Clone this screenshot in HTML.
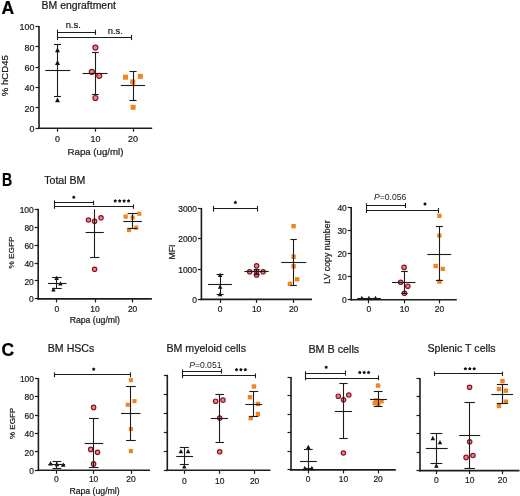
<!DOCTYPE html>
<html><head><meta charset="utf-8"><style>
html,body{margin:0;padding:0;background:#fff;}
svg{display:block;filter:blur(0.3px);font-family:"Liberation Sans",sans-serif;}
</style></head><body>
<svg width="520" height="496" viewBox="0 0 520 496">
<rect width="520" height="496" fill="#fff"/>
<text x="1.6" y="13.5" font-size="17.5" text-anchor="start" font-weight="bold" fill="#000" stroke="#000" stroke-width="0.22" >A</text>
<text x="41.6" y="9.4" font-size="10.45" text-anchor="start" fill="#1a1a1a" stroke="#1a1a1a" stroke-width="0.22" >BM engraftment</text>
<line x1="39.0" y1="26.099999999999994" x2="39.0" y2="129.0" stroke="#1c1c1c" stroke-width="1.6"/>
<line x1="38.2" y1="128.2" x2="152.2" y2="128.2" stroke="#1c1c1c" stroke-width="1.6"/>
<line x1="35.5" y1="128.5" x2="39.0" y2="128.5" stroke="#1c1c1c" stroke-width="1.2"/>
<text x="34.5" y="131.944" font-size="9.6" text-anchor="end" fill="#1a1a1a" stroke="#1a1a1a" stroke-width="0.22"  textLength="4.96" lengthAdjust="spacingAndGlyphs">0</text>
<line x1="35.5" y1="107.5" x2="39.0" y2="107.5" stroke="#1c1c1c" stroke-width="1.2"/>
<text x="34.5" y="111.624" font-size="9.6" text-anchor="end" fill="#1a1a1a" stroke="#1a1a1a" stroke-width="0.22"  textLength="9.93" lengthAdjust="spacingAndGlyphs">20</text>
<line x1="35.5" y1="87.5" x2="39.0" y2="87.5" stroke="#1c1c1c" stroke-width="1.2"/>
<text x="34.5" y="91.30399999999999" font-size="9.6" text-anchor="end" fill="#1a1a1a" stroke="#1a1a1a" stroke-width="0.22"  textLength="9.93" lengthAdjust="spacingAndGlyphs">40</text>
<line x1="35.5" y1="67.5" x2="39.0" y2="67.5" stroke="#1c1c1c" stroke-width="1.2"/>
<text x="34.5" y="70.98399999999998" font-size="9.6" text-anchor="end" fill="#1a1a1a" stroke="#1a1a1a" stroke-width="0.22"  textLength="9.93" lengthAdjust="spacingAndGlyphs">60</text>
<line x1="35.5" y1="46.5" x2="39.0" y2="46.5" stroke="#1c1c1c" stroke-width="1.2"/>
<text x="34.5" y="50.66399999999999" font-size="9.6" text-anchor="end" fill="#1a1a1a" stroke="#1a1a1a" stroke-width="0.22"  textLength="9.93" lengthAdjust="spacingAndGlyphs">80</text>
<line x1="35.5" y1="26.5" x2="39.0" y2="26.5" stroke="#1c1c1c" stroke-width="1.2"/>
<text x="34.5" y="30.343999999999994" font-size="9.6" text-anchor="end" fill="#1a1a1a" stroke="#1a1a1a" stroke-width="0.22"  textLength="14.89" lengthAdjust="spacingAndGlyphs">100</text>
<line x1="57.5" y1="128.2" x2="57.5" y2="131.7" stroke="#1c1c1c" stroke-width="1.2"/>
<text x="57.6" y="142.2" font-size="9.6" text-anchor="middle" fill="#1a1a1a" stroke="#1a1a1a" stroke-width="0.22"  textLength="4.96" lengthAdjust="spacingAndGlyphs">0</text>
<line x1="95.5" y1="128.2" x2="95.5" y2="131.7" stroke="#1c1c1c" stroke-width="1.2"/>
<text x="95.4" y="142.2" font-size="9.6" text-anchor="middle" fill="#1a1a1a" stroke="#1a1a1a" stroke-width="0.22"  textLength="9.93" lengthAdjust="spacingAndGlyphs">10</text>
<line x1="133.5" y1="128.2" x2="133.5" y2="131.7" stroke="#1c1c1c" stroke-width="1.2"/>
<text x="133.0" y="142.2" font-size="9.6" text-anchor="middle" fill="#1a1a1a" stroke="#1a1a1a" stroke-width="0.22"  textLength="9.93" lengthAdjust="spacingAndGlyphs">20</text>
<text x="95.5" y="154.5" font-size="9.7" text-anchor="middle" fill="#1a1a1a" stroke="#1a1a1a" stroke-width="0.22" >Rapa (ug/ml)</text>
<text x="8.5" y="75.7" font-size="9.6" text-anchor="middle" transform="rotate(-90 8.5 75.7)" fill="#1a1a1a" stroke="#1a1a1a" stroke-width="0.22" >% hCD45</text>
<line x1="57.8" y1="32.5" x2="95.9" y2="32.5" stroke="#1c1c1c" stroke-width="1.1"/>
<line x1="57.5" y1="29.7" x2="57.5" y2="40.1" stroke="#1c1c1c" stroke-width="1.1"/>
<line x1="95.5" y1="29.7" x2="95.5" y2="34.9" stroke="#1c1c1c" stroke-width="1.1"/>
<line x1="57.8" y1="37.5" x2="131.3" y2="37.5" stroke="#1c1c1c" stroke-width="1.1"/>
<line x1="131.5" y1="34.9" x2="131.5" y2="40.1" stroke="#1c1c1c" stroke-width="1.1"/>
<text x="73.2" y="28.4" font-size="9.4" text-anchor="middle" fill="#1a1a1a" stroke="#1a1a1a" stroke-width="0.22" >n.s.</text>
<text x="115.3" y="33.7" font-size="9.4" text-anchor="middle" fill="#1a1a1a" stroke="#1a1a1a" stroke-width="0.22" >n.s.</text>
<path d="M55.00,52.17 L60.00,52.17 L57.50,47.42 Z" fill="#111"/>
<path d="M55.00,64.88 L60.00,64.88 L57.50,60.12 Z" fill="#111"/>
<path d="M55.00,102.28 L60.00,102.28 L57.50,97.53 Z" fill="#111"/>
<circle cx="95.4" cy="47.6" r="2.5" fill="#f4808c" stroke="#861622" stroke-width="1.2"/>
<circle cx="91.8" cy="71.8" r="2.5" fill="#f4808c" stroke="#861622" stroke-width="1.2"/>
<circle cx="99.2" cy="75.8" r="2.5" fill="#f4808c" stroke="#861622" stroke-width="1.2"/>
<circle cx="95.4" cy="98.0" r="2.5" fill="#f4808c" stroke="#861622" stroke-width="1.2"/>
<rect x="123.00" y="74.70" width="5.0" height="5.0" fill="#f0841f"/>
<rect x="137.80" y="73.90" width="5.0" height="5.0" fill="#f0841f"/>
<rect x="130.30" y="79.40" width="5.0" height="5.0" fill="#f0841f"/>
<rect x="130.60" y="104.80" width="5.0" height="5.0" fill="#f0841f"/>
<text x="1.9" y="186.0" font-size="17.5" text-anchor="start" font-weight="bold" fill="#000" stroke="#000" stroke-width="0.22"  textLength="10.16" lengthAdjust="spacingAndGlyphs">B</text>
<text x="44.2" y="184.0" font-size="10.6" text-anchor="start" fill="#1a1a1a" stroke="#1a1a1a" stroke-width="0.22" >Total BM</text>
<line x1="38.2" y1="208.79999999999995" x2="38.2" y2="299.7" stroke="#1c1c1c" stroke-width="1.6"/>
<line x1="37.400000000000006" y1="298.9" x2="151.9" y2="298.9" stroke="#1c1c1c" stroke-width="1.6"/>
<line x1="34.7" y1="298.5" x2="38.2" y2="298.5" stroke="#1c1c1c" stroke-width="1.2"/>
<text x="33.800000000000004" y="302.44899999999996" font-size="9.1" text-anchor="end" fill="#1a1a1a" stroke="#1a1a1a" stroke-width="0.22"  textLength="4.71" lengthAdjust="spacingAndGlyphs">0</text>
<line x1="34.7" y1="280.5" x2="38.2" y2="280.5" stroke="#1c1c1c" stroke-width="1.2"/>
<text x="33.800000000000004" y="284.52899999999994" font-size="9.1" text-anchor="end" fill="#1a1a1a" stroke="#1a1a1a" stroke-width="0.22"  textLength="9.41" lengthAdjust="spacingAndGlyphs">20</text>
<line x1="34.7" y1="263.5" x2="38.2" y2="263.5" stroke="#1c1c1c" stroke-width="1.2"/>
<text x="33.800000000000004" y="266.6089999999999" font-size="9.1" text-anchor="end" fill="#1a1a1a" stroke="#1a1a1a" stroke-width="0.22"  textLength="9.41" lengthAdjust="spacingAndGlyphs">40</text>
<line x1="34.7" y1="245.5" x2="38.2" y2="245.5" stroke="#1c1c1c" stroke-width="1.2"/>
<text x="33.800000000000004" y="248.689" font-size="9.1" text-anchor="end" fill="#1a1a1a" stroke="#1a1a1a" stroke-width="0.22"  textLength="9.41" lengthAdjust="spacingAndGlyphs">60</text>
<line x1="34.7" y1="227.5" x2="38.2" y2="227.5" stroke="#1c1c1c" stroke-width="1.2"/>
<text x="33.800000000000004" y="230.76899999999998" font-size="9.1" text-anchor="end" fill="#1a1a1a" stroke="#1a1a1a" stroke-width="0.22"  textLength="9.41" lengthAdjust="spacingAndGlyphs">80</text>
<line x1="34.7" y1="209.5" x2="38.2" y2="209.5" stroke="#1c1c1c" stroke-width="1.2"/>
<text x="33.800000000000004" y="212.84899999999996" font-size="9.1" text-anchor="end" fill="#1a1a1a" stroke="#1a1a1a" stroke-width="0.22"  textLength="14.12" lengthAdjust="spacingAndGlyphs">100</text>
<line x1="56.5" y1="298.9" x2="56.5" y2="302.4" stroke="#1c1c1c" stroke-width="1.2"/>
<text x="56.9" y="311.6" font-size="9.1" text-anchor="middle" fill="#1a1a1a" stroke="#1a1a1a" stroke-width="0.22"  textLength="4.71" lengthAdjust="spacingAndGlyphs">0</text>
<line x1="95.5" y1="298.9" x2="95.5" y2="302.4" stroke="#1c1c1c" stroke-width="1.2"/>
<text x="95.0" y="311.6" font-size="9.1" text-anchor="middle" fill="#1a1a1a" stroke="#1a1a1a" stroke-width="0.22"  textLength="9.41" lengthAdjust="spacingAndGlyphs">10</text>
<line x1="132.5" y1="298.9" x2="132.5" y2="302.4" stroke="#1c1c1c" stroke-width="1.2"/>
<text x="132.6" y="311.6" font-size="9.1" text-anchor="middle" fill="#1a1a1a" stroke="#1a1a1a" stroke-width="0.22"  textLength="9.41" lengthAdjust="spacingAndGlyphs">20</text>
<text x="94.8" y="322.6" font-size="8.7" text-anchor="middle" fill="#1a1a1a" stroke="#1a1a1a" stroke-width="0.22" >Rapa (ug/ml)</text>
<text x="13.9" y="252.6" font-size="8.1" text-anchor="middle" transform="rotate(-90 13.9 252.6)" fill="#1a1a1a" stroke="#1a1a1a" stroke-width="0.22"  textLength="32.00" lengthAdjust="spacingAndGlyphs">% EGFP</text>
<line x1="54.8" y1="202.5" x2="93.8" y2="202.5" stroke="#1c1c1c" stroke-width="1.1"/>
<line x1="54.5" y1="200.4" x2="54.5" y2="208.8" stroke="#1c1c1c" stroke-width="1.1"/>
<line x1="93.5" y1="200.6" x2="93.5" y2="205.2" stroke="#1c1c1c" stroke-width="1.1"/>
<line x1="54.8" y1="206.5" x2="133.0" y2="206.5" stroke="#1c1c1c" stroke-width="1.1"/>
<line x1="133.5" y1="204.4" x2="133.5" y2="208.8" stroke="#1c1c1c" stroke-width="1.1"/>
<polygon points="73.80,195.40 74.53,196.30 75.61,196.71 74.97,197.68 74.92,198.84 73.80,198.54 72.68,198.84 72.63,197.68 71.99,196.71 73.07,196.30" fill="#111"/>
<polygon points="115.23,199.00 115.95,199.90 117.03,200.31 116.40,201.28 116.34,202.44 115.23,202.14 114.11,202.44 114.05,201.28 113.42,200.31 114.50,199.90" fill="#111"/>
<polygon points="119.68,199.00 120.40,199.90 121.48,200.31 120.85,201.28 120.79,202.44 119.68,202.14 118.56,202.44 118.50,201.28 117.87,200.31 118.95,199.90" fill="#111"/>
<polygon points="124.12,199.00 124.85,199.90 125.93,200.31 125.30,201.28 125.24,202.44 124.12,202.14 123.01,202.44 122.95,201.28 122.32,200.31 123.40,199.90" fill="#111"/>
<polygon points="128.58,199.00 129.30,199.90 130.38,200.31 129.75,201.28 129.69,202.44 128.58,202.14 127.46,202.44 127.40,201.28 126.77,200.31 127.85,199.90" fill="#111"/>
<path d="M54.35,280.04 L58.85,280.04 L56.60,275.76 Z" fill="#111"/>
<path d="M58.15,285.54 L62.65,285.54 L60.40,281.26 Z" fill="#111"/>
<path d="M51.15,291.54 L55.65,291.54 L53.40,287.26 Z" fill="#111"/>
<circle cx="88.5" cy="220.0" r="2.2" fill="#f4808c" stroke="#861622" stroke-width="1.2"/>
<circle cx="94.6" cy="221.3" r="2.2" fill="#f4808c" stroke="#861622" stroke-width="1.2"/>
<circle cx="101.0" cy="217.8" r="2.2" fill="#f4808c" stroke="#861622" stroke-width="1.2"/>
<circle cx="94.6" cy="269.3" r="2.2" fill="#f4808c" stroke="#861622" stroke-width="1.2"/>
<rect x="123.60" y="214.50" width="4.2" height="4.2" fill="#f0841f"/>
<rect x="130.50" y="215.50" width="4.2" height="4.2" fill="#f0841f"/>
<rect x="137.10" y="211.60" width="4.2" height="4.2" fill="#f0841f"/>
<rect x="126.90" y="227.90" width="4.2" height="4.2" fill="#f0841f"/>
<rect x="134.10" y="225.60" width="4.2" height="4.2" fill="#f0841f"/>
<line x1="201.4" y1="208.08999999999997" x2="201.4" y2="300.2" stroke="#1c1c1c" stroke-width="1.6"/>
<line x1="200.6" y1="299.4" x2="312.0" y2="299.4" stroke="#1c1c1c" stroke-width="1.6"/>
<line x1="197.9" y1="299.5" x2="201.4" y2="299.5" stroke="#1c1c1c" stroke-width="1.2"/>
<text x="197.0" y="302.94899999999996" font-size="9.1" text-anchor="end" fill="#1a1a1a" stroke="#1a1a1a" stroke-width="0.22"  textLength="4.71" lengthAdjust="spacingAndGlyphs">0</text>
<line x1="197.9" y1="269.5" x2="201.4" y2="269.5" stroke="#1c1c1c" stroke-width="1.2"/>
<text x="197.0" y="272.679" font-size="9.1" text-anchor="end" fill="#1a1a1a" stroke="#1a1a1a" stroke-width="0.22"  textLength="18.82" lengthAdjust="spacingAndGlyphs">1000</text>
<line x1="197.9" y1="238.5" x2="201.4" y2="238.5" stroke="#1c1c1c" stroke-width="1.2"/>
<text x="197.0" y="242.409" font-size="9.1" text-anchor="end" fill="#1a1a1a" stroke="#1a1a1a" stroke-width="0.22"  textLength="18.82" lengthAdjust="spacingAndGlyphs">2000</text>
<line x1="197.9" y1="208.5" x2="201.4" y2="208.5" stroke="#1c1c1c" stroke-width="1.2"/>
<text x="197.0" y="212.13899999999998" font-size="9.1" text-anchor="end" fill="#1a1a1a" stroke="#1a1a1a" stroke-width="0.22"  textLength="18.82" lengthAdjust="spacingAndGlyphs">3000</text>
<line x1="220.5" y1="299.4" x2="220.5" y2="302.9" stroke="#1c1c1c" stroke-width="1.2"/>
<text x="220.0" y="311.8" font-size="9.1" text-anchor="middle" fill="#1a1a1a" stroke="#1a1a1a" stroke-width="0.22"  textLength="4.71" lengthAdjust="spacingAndGlyphs">0</text>
<line x1="256.5" y1="299.4" x2="256.5" y2="302.9" stroke="#1c1c1c" stroke-width="1.2"/>
<text x="256.6" y="311.8" font-size="9.1" text-anchor="middle" fill="#1a1a1a" stroke="#1a1a1a" stroke-width="0.22"  textLength="9.41" lengthAdjust="spacingAndGlyphs">10</text>
<line x1="293.5" y1="299.4" x2="293.5" y2="302.9" stroke="#1c1c1c" stroke-width="1.2"/>
<text x="293.6" y="311.8" font-size="9.1" text-anchor="middle" fill="#1a1a1a" stroke="#1a1a1a" stroke-width="0.22"  textLength="9.41" lengthAdjust="spacingAndGlyphs">20</text>
<text x="175.0" y="252.0" font-size="8.8" text-anchor="middle" transform="rotate(-90 175.0 252.0)" fill="#1a1a1a" stroke="#1a1a1a" stroke-width="0.22" >MFI</text>
<line x1="213.3" y1="208.5" x2="257.5" y2="208.5" stroke="#1c1c1c" stroke-width="1.1"/>
<line x1="213.5" y1="206.0" x2="213.5" y2="211.60000000000002" stroke="#1c1c1c" stroke-width="1.1"/>
<line x1="257.5" y1="206.0" x2="257.5" y2="211.60000000000002" stroke="#1c1c1c" stroke-width="1.1"/>
<polygon points="235.40,200.60 236.13,201.50 237.21,201.91 236.57,202.88 236.52,204.04 235.40,203.74 234.28,204.04 234.23,202.88 233.59,201.91 234.67,201.50" fill="#111"/>
<path d="M217.85,277.04 L222.35,277.04 L220.10,272.76 Z" fill="#111"/>
<path d="M217.85,288.74 L222.35,288.74 L220.10,284.46 Z" fill="#111"/>
<path d="M217.85,296.14 L222.35,296.14 L220.10,291.86 Z" fill="#111"/>
<circle cx="256.6" cy="265.8" r="2.2" fill="#f4808c" stroke="#861622" stroke-width="1.2"/>
<circle cx="249.7" cy="271.8" r="2.2" fill="#f4808c" stroke="#861622" stroke-width="1.2"/>
<circle cx="263.1" cy="271.8" r="2.2" fill="#f4808c" stroke="#861622" stroke-width="1.2"/>
<circle cx="256.6" cy="274.9" r="2.2" fill="#f4808c" stroke="#861622" stroke-width="1.2"/>
<circle cx="256.6" cy="271.2" r="2.2" fill="#f4808c" stroke="#861622" stroke-width="1.2"/>
<rect x="291.40" y="224.00" width="4.4" height="4.4" fill="#f0841f"/>
<rect x="291.40" y="254.50" width="4.4" height="4.4" fill="#f0841f"/>
<rect x="291.40" y="264.10" width="4.4" height="4.4" fill="#f0841f"/>
<rect x="295.00" y="277.10" width="4.4" height="4.4" fill="#f0841f"/>
<rect x="287.70" y="281.60" width="4.4" height="4.4" fill="#f0841f"/>
<line x1="351.2" y1="206.9" x2="351.2" y2="300.6" stroke="#1c1c1c" stroke-width="1.6"/>
<line x1="350.4" y1="299.8" x2="456.8" y2="299.8" stroke="#1c1c1c" stroke-width="1.6"/>
<line x1="347.7" y1="299.5" x2="351.2" y2="299.5" stroke="#1c1c1c" stroke-width="1.2"/>
<text x="346.8" y="303.349" font-size="9.1" text-anchor="end" fill="#1a1a1a" stroke="#1a1a1a" stroke-width="0.22"  textLength="4.71" lengthAdjust="spacingAndGlyphs">0</text>
<line x1="347.7" y1="276.5" x2="351.2" y2="276.5" stroke="#1c1c1c" stroke-width="1.2"/>
<text x="346.8" y="280.24899999999997" font-size="9.1" text-anchor="end" fill="#1a1a1a" stroke="#1a1a1a" stroke-width="0.22"  textLength="9.41" lengthAdjust="spacingAndGlyphs">10</text>
<line x1="347.7" y1="253.5" x2="351.2" y2="253.5" stroke="#1c1c1c" stroke-width="1.2"/>
<text x="346.8" y="257.149" font-size="9.1" text-anchor="end" fill="#1a1a1a" stroke="#1a1a1a" stroke-width="0.22"  textLength="9.41" lengthAdjust="spacingAndGlyphs">20</text>
<line x1="347.7" y1="230.5" x2="351.2" y2="230.5" stroke="#1c1c1c" stroke-width="1.2"/>
<text x="346.8" y="234.049" font-size="9.1" text-anchor="end" fill="#1a1a1a" stroke="#1a1a1a" stroke-width="0.22"  textLength="9.41" lengthAdjust="spacingAndGlyphs">30</text>
<line x1="347.7" y1="207.5" x2="351.2" y2="207.5" stroke="#1c1c1c" stroke-width="1.2"/>
<text x="346.8" y="210.949" font-size="9.1" text-anchor="end" fill="#1a1a1a" stroke="#1a1a1a" stroke-width="0.22"  textLength="9.41" lengthAdjust="spacingAndGlyphs">40</text>
<line x1="368.5" y1="299.8" x2="368.5" y2="303.3" stroke="#1c1c1c" stroke-width="1.2"/>
<text x="368.8" y="312.4" font-size="9.1" text-anchor="middle" fill="#1a1a1a" stroke="#1a1a1a" stroke-width="0.22"  textLength="4.71" lengthAdjust="spacingAndGlyphs">0</text>
<line x1="404.5" y1="299.8" x2="404.5" y2="303.3" stroke="#1c1c1c" stroke-width="1.2"/>
<text x="404.4" y="312.4" font-size="9.1" text-anchor="middle" fill="#1a1a1a" stroke="#1a1a1a" stroke-width="0.22"  textLength="9.41" lengthAdjust="spacingAndGlyphs">10</text>
<line x1="439.5" y1="299.8" x2="439.5" y2="303.3" stroke="#1c1c1c" stroke-width="1.2"/>
<text x="439.5" y="312.4" font-size="9.1" text-anchor="middle" fill="#1a1a1a" stroke="#1a1a1a" stroke-width="0.22"  textLength="9.41" lengthAdjust="spacingAndGlyphs">20</text>
<text x="330.2" y="252.1" font-size="8.8" text-anchor="middle" transform="rotate(-90 330.2 252.1)" fill="#1a1a1a" stroke="#1a1a1a" stroke-width="0.22" >LV copy number</text>
<line x1="366.6" y1="205.5" x2="405.5" y2="205.5" stroke="#1c1c1c" stroke-width="1.1"/>
<line x1="366.5" y1="203.3" x2="366.5" y2="212.9" stroke="#1c1c1c" stroke-width="1.1"/>
<line x1="405.5" y1="203.0" x2="405.5" y2="208.0" stroke="#1c1c1c" stroke-width="1.1"/>
<line x1="366.6" y1="210.5" x2="438.8" y2="210.5" stroke="#1c1c1c" stroke-width="1.1"/>
<line x1="438.5" y1="208.0" x2="438.5" y2="213.0" stroke="#1c1c1c" stroke-width="1.1"/>
<text x="374.0" y="200.4" font-size="8.6" fill="#1a1a1a"><tspan font-style="italic">P</tspan>=0.056</text>
<polygon points="425.00,202.10 425.73,203.00 426.81,203.41 426.17,204.38 426.12,205.54 425.00,205.24 423.88,205.54 423.83,204.38 423.19,203.41 424.27,203.00" fill="#111"/>
<path d="M359.80,299.50 L363.80,299.50 L361.80,295.70 Z" fill="#111"/>
<path d="M366.90,299.50 L370.90,299.50 L368.90,295.70 Z" fill="#111"/>
<path d="M373.50,299.50 L377.50,299.50 L375.50,295.70 Z" fill="#111"/>
<circle cx="404.1" cy="267.4" r="2.2" fill="#f4808c" stroke="#861622" stroke-width="1.2"/>
<circle cx="400.7" cy="282.3" r="2.2" fill="#f4808c" stroke="#861622" stroke-width="1.2"/>
<circle cx="407.8" cy="286.2" r="2.2" fill="#f4808c" stroke="#861622" stroke-width="1.2"/>
<circle cx="404.4" cy="293.3" r="2.2" fill="#f4808c" stroke="#861622" stroke-width="1.2"/>
<rect x="437.25" y="213.65" width="4.3" height="4.3" fill="#f0841f"/>
<rect x="437.25" y="233.45" width="4.3" height="4.3" fill="#f0841f"/>
<rect x="433.55" y="263.85" width="4.3" height="4.3" fill="#f0841f"/>
<rect x="440.65" y="266.75" width="4.3" height="4.3" fill="#f0841f"/>
<rect x="437.25" y="279.45" width="4.3" height="4.3" fill="#f0841f"/>
<text x="1.6" y="355.5" font-size="17.5" text-anchor="start" font-weight="bold" fill="#000" stroke="#000" stroke-width="0.22" >C</text>
<text x="47.8" y="352.4" font-size="10.6" text-anchor="start" fill="#1a1a1a" stroke="#1a1a1a" stroke-width="0.22" >BM HSCs</text>
<line x1="38.4" y1="378.1" x2="38.4" y2="471.1" stroke="#1c1c1c" stroke-width="1.6"/>
<line x1="37.6" y1="470.3" x2="150.0" y2="470.3" stroke="#1c1c1c" stroke-width="1.6"/>
<line x1="34.9" y1="470.5" x2="38.4" y2="470.5" stroke="#1c1c1c" stroke-width="1.2"/>
<text x="34.0" y="473.849" font-size="9.1" text-anchor="end" fill="#1a1a1a" stroke="#1a1a1a" stroke-width="0.22"  textLength="4.71" lengthAdjust="spacingAndGlyphs">0</text>
<line x1="34.9" y1="451.5" x2="38.4" y2="451.5" stroke="#1c1c1c" stroke-width="1.2"/>
<text x="34.0" y="455.509" font-size="9.1" text-anchor="end" fill="#1a1a1a" stroke="#1a1a1a" stroke-width="0.22"  textLength="9.41" lengthAdjust="spacingAndGlyphs">20</text>
<line x1="34.9" y1="433.5" x2="38.4" y2="433.5" stroke="#1c1c1c" stroke-width="1.2"/>
<text x="34.0" y="437.169" font-size="9.1" text-anchor="end" fill="#1a1a1a" stroke="#1a1a1a" stroke-width="0.22"  textLength="9.41" lengthAdjust="spacingAndGlyphs">40</text>
<line x1="34.9" y1="415.5" x2="38.4" y2="415.5" stroke="#1c1c1c" stroke-width="1.2"/>
<text x="34.0" y="418.829" font-size="9.1" text-anchor="end" fill="#1a1a1a" stroke="#1a1a1a" stroke-width="0.22"  textLength="9.41" lengthAdjust="spacingAndGlyphs">60</text>
<line x1="34.9" y1="396.5" x2="38.4" y2="396.5" stroke="#1c1c1c" stroke-width="1.2"/>
<text x="34.0" y="400.489" font-size="9.1" text-anchor="end" fill="#1a1a1a" stroke="#1a1a1a" stroke-width="0.22"  textLength="9.41" lengthAdjust="spacingAndGlyphs">80</text>
<line x1="34.9" y1="378.5" x2="38.4" y2="378.5" stroke="#1c1c1c" stroke-width="1.2"/>
<text x="34.0" y="382.149" font-size="9.1" text-anchor="end" fill="#1a1a1a" stroke="#1a1a1a" stroke-width="0.22"  textLength="14.12" lengthAdjust="spacingAndGlyphs">100</text>
<line x1="56.5" y1="470.3" x2="56.5" y2="473.8" stroke="#1c1c1c" stroke-width="1.2"/>
<text x="56.4" y="482.4" font-size="9.1" text-anchor="middle" fill="#1a1a1a" stroke="#1a1a1a" stroke-width="0.22"  textLength="4.71" lengthAdjust="spacingAndGlyphs">0</text>
<line x1="93.5" y1="470.3" x2="93.5" y2="473.8" stroke="#1c1c1c" stroke-width="1.2"/>
<text x="93.6" y="482.4" font-size="9.1" text-anchor="middle" fill="#1a1a1a" stroke="#1a1a1a" stroke-width="0.22"  textLength="9.41" lengthAdjust="spacingAndGlyphs">10</text>
<line x1="131.5" y1="470.3" x2="131.5" y2="473.8" stroke="#1c1c1c" stroke-width="1.2"/>
<text x="131.0" y="482.4" font-size="9.1" text-anchor="middle" fill="#1a1a1a" stroke="#1a1a1a" stroke-width="0.22"  textLength="9.41" lengthAdjust="spacingAndGlyphs">20</text>
<text x="94.5" y="493.5" font-size="8.7" text-anchor="middle" fill="#1a1a1a" stroke="#1a1a1a" stroke-width="0.22" >Rapa (ug/ml)</text>
<text x="14.8" y="423.4" font-size="8.1" text-anchor="middle" transform="rotate(-90 14.8 423.4)" fill="#1a1a1a" stroke="#1a1a1a" stroke-width="0.22"  textLength="31.20" lengthAdjust="spacingAndGlyphs">% EGFP</text>
<line x1="54.8" y1="374.5" x2="130.6" y2="374.5" stroke="#1c1c1c" stroke-width="1.1"/>
<line x1="54.5" y1="372.40000000000003" x2="54.5" y2="377.2" stroke="#1c1c1c" stroke-width="1.1"/>
<line x1="130.5" y1="372.40000000000003" x2="130.5" y2="377.2" stroke="#1c1c1c" stroke-width="1.1"/>
<polygon points="93.70,367.30 94.43,368.20 95.51,368.61 94.87,369.58 94.82,370.74 93.70,370.44 92.58,370.74 92.53,369.58 91.89,368.61 92.97,368.20" fill="#111"/>
<path d="M48.30,465.49 L52.90,465.49 L50.60,461.12 Z" fill="#111"/>
<path d="M60.90,466.79 L65.50,466.79 L63.20,462.42 Z" fill="#111"/>
<path d="M54.60,466.19 L59.20,466.19 L56.90,461.81 Z" fill="#111"/>
<circle cx="93.6" cy="407.4" r="2.2" fill="#f4808c" stroke="#861622" stroke-width="1.2"/>
<circle cx="90.7" cy="449.4" r="2.2" fill="#f4808c" stroke="#861622" stroke-width="1.2"/>
<circle cx="97.5" cy="452.3" r="2.2" fill="#f4808c" stroke="#861622" stroke-width="1.2"/>
<circle cx="93.6" cy="463.9" r="2.2" fill="#f4808c" stroke="#861622" stroke-width="1.2"/>
<rect x="128.85" y="378.15" width="4.1" height="4.1" fill="#f0841f"/>
<rect x="125.65" y="402.75" width="4.1" height="4.1" fill="#f0841f"/>
<rect x="132.45" y="399.05" width="4.1" height="4.1" fill="#f0841f"/>
<rect x="128.85" y="426.95" width="4.1" height="4.1" fill="#f0841f"/>
<rect x="128.85" y="449.05" width="4.1" height="4.1" fill="#f0841f"/>
<text x="166.5" y="351.6" font-size="10.6" text-anchor="start" fill="#1a1a1a" stroke="#1a1a1a" stroke-width="0.22" >BM myeloid cells</text>
<line x1="167.3" y1="374.8" x2="167.3" y2="471.1" stroke="#1c1c1c" stroke-width="1.6"/>
<line x1="166.5" y1="470.3" x2="270.4" y2="470.3" stroke="#1c1c1c" stroke-width="1.6"/>
<line x1="163.8" y1="470.5" x2="167.3" y2="470.5" stroke="#1c1c1c" stroke-width="1.2"/>
<line x1="163.8" y1="451.5" x2="167.3" y2="451.5" stroke="#1c1c1c" stroke-width="1.2"/>
<line x1="163.8" y1="432.5" x2="167.3" y2="432.5" stroke="#1c1c1c" stroke-width="1.2"/>
<line x1="163.8" y1="413.5" x2="167.3" y2="413.5" stroke="#1c1c1c" stroke-width="1.2"/>
<line x1="163.8" y1="394.5" x2="167.3" y2="394.5" stroke="#1c1c1c" stroke-width="1.2"/>
<line x1="163.8" y1="375.5" x2="167.3" y2="375.5" stroke="#1c1c1c" stroke-width="1.2"/>
<line x1="184.5" y1="470.3" x2="184.5" y2="473.8" stroke="#1c1c1c" stroke-width="1.2"/>
<text x="184.3" y="483.5" font-size="9.1" text-anchor="middle" fill="#1a1a1a" stroke="#1a1a1a" stroke-width="0.22"  textLength="4.71" lengthAdjust="spacingAndGlyphs">0</text>
<line x1="219.5" y1="470.3" x2="219.5" y2="473.8" stroke="#1c1c1c" stroke-width="1.2"/>
<text x="219.7" y="483.5" font-size="9.1" text-anchor="middle" fill="#1a1a1a" stroke="#1a1a1a" stroke-width="0.22"  textLength="9.41" lengthAdjust="spacingAndGlyphs">10</text>
<line x1="254.5" y1="470.3" x2="254.5" y2="473.8" stroke="#1c1c1c" stroke-width="1.2"/>
<text x="254.6" y="483.5" font-size="9.1" text-anchor="middle" fill="#1a1a1a" stroke="#1a1a1a" stroke-width="0.22"  textLength="9.41" lengthAdjust="spacingAndGlyphs">20</text>
<line x1="182.2" y1="371.5" x2="221.8" y2="371.5" stroke="#1c1c1c" stroke-width="1.1"/>
<line x1="182.5" y1="369.5" x2="182.5" y2="378.1" stroke="#1c1c1c" stroke-width="1.1"/>
<line x1="221.5" y1="368.8" x2="221.5" y2="373.6" stroke="#1c1c1c" stroke-width="1.1"/>
<line x1="182.2" y1="375.5" x2="255.6" y2="375.5" stroke="#1c1c1c" stroke-width="1.1"/>
<line x1="255.5" y1="373.4" x2="255.5" y2="378.2" stroke="#1c1c1c" stroke-width="1.1"/>
<text x="189.2" y="368.0" font-size="8.6" fill="#1a1a1a"><tspan font-style="italic">P</tspan>=0.051</text>
<polygon points="236.50,367.80 237.23,368.70 238.31,369.11 237.67,370.08 237.62,371.24 236.50,370.94 235.38,371.24 235.33,370.08 234.69,369.11 235.77,368.70" fill="#111"/>
<polygon points="240.90,367.80 241.63,368.70 242.71,369.11 242.07,370.08 242.02,371.24 240.90,370.94 239.78,371.24 239.73,370.08 239.09,369.11 240.17,368.70" fill="#111"/>
<polygon points="245.30,367.80 246.03,368.70 247.11,369.11 246.47,370.08 246.42,371.24 245.30,370.94 244.18,371.24 244.13,370.08 243.49,369.11 244.57,368.70" fill="#111"/>
<path d="M178.65,453.34 L183.15,453.34 L180.90,449.06 Z" fill="#111"/>
<path d="M185.85,453.34 L190.35,453.34 L188.10,449.06 Z" fill="#111"/>
<path d="M182.05,468.54 L186.55,468.54 L184.30,464.26 Z" fill="#111"/>
<circle cx="215.6" cy="401.2" r="2.2" fill="#f4808c" stroke="#861622" stroke-width="1.2"/>
<circle cx="223.0" cy="400.1" r="2.2" fill="#f4808c" stroke="#861622" stroke-width="1.2"/>
<circle cx="219.7" cy="418.1" r="2.2" fill="#f4808c" stroke="#861622" stroke-width="1.2"/>
<circle cx="219.7" cy="451.8" r="2.2" fill="#f4808c" stroke="#861622" stroke-width="1.2"/>
<rect x="251.80" y="384.30" width="4.4" height="4.4" fill="#f0841f"/>
<rect x="247.80" y="395.00" width="4.4" height="4.4" fill="#f0841f"/>
<rect x="255.70" y="401.80" width="4.4" height="4.4" fill="#f0841f"/>
<rect x="255.70" y="411.80" width="4.4" height="4.4" fill="#f0841f"/>
<rect x="248.50" y="415.90" width="4.4" height="4.4" fill="#f0841f"/>
<text x="308.4" y="352.8" font-size="10.75" text-anchor="start" fill="#1a1a1a" stroke="#1a1a1a" stroke-width="0.22" >BM B cells</text>
<line x1="291.0" y1="377.0" x2="291.0" y2="470.7" stroke="#1c1c1c" stroke-width="1.6"/>
<line x1="290.2" y1="469.9" x2="395.8" y2="469.9" stroke="#1c1c1c" stroke-width="1.6"/>
<line x1="287.5" y1="469.5" x2="291.0" y2="469.5" stroke="#1c1c1c" stroke-width="1.2"/>
<line x1="287.5" y1="451.5" x2="291.0" y2="451.5" stroke="#1c1c1c" stroke-width="1.2"/>
<line x1="287.5" y1="432.5" x2="291.0" y2="432.5" stroke="#1c1c1c" stroke-width="1.2"/>
<line x1="287.5" y1="414.5" x2="291.0" y2="414.5" stroke="#1c1c1c" stroke-width="1.2"/>
<line x1="287.5" y1="395.5" x2="291.0" y2="395.5" stroke="#1c1c1c" stroke-width="1.2"/>
<line x1="287.5" y1="377.5" x2="291.0" y2="377.5" stroke="#1c1c1c" stroke-width="1.2"/>
<line x1="308.5" y1="469.9" x2="308.5" y2="473.4" stroke="#1c1c1c" stroke-width="1.2"/>
<text x="308.1" y="482.4" font-size="9.1" text-anchor="middle" fill="#1a1a1a" stroke="#1a1a1a" stroke-width="0.22"  textLength="4.71" lengthAdjust="spacingAndGlyphs">0</text>
<line x1="343.5" y1="469.9" x2="343.5" y2="473.4" stroke="#1c1c1c" stroke-width="1.2"/>
<text x="343.5" y="482.4" font-size="9.1" text-anchor="middle" fill="#1a1a1a" stroke="#1a1a1a" stroke-width="0.22"  textLength="9.41" lengthAdjust="spacingAndGlyphs">10</text>
<line x1="378.5" y1="469.9" x2="378.5" y2="473.4" stroke="#1c1c1c" stroke-width="1.2"/>
<text x="378.1" y="482.4" font-size="9.1" text-anchor="middle" fill="#1a1a1a" stroke="#1a1a1a" stroke-width="0.22"  textLength="9.41" lengthAdjust="spacingAndGlyphs">20</text>
<line x1="305.6" y1="373.5" x2="345.6" y2="373.5" stroke="#1c1c1c" stroke-width="1.1"/>
<line x1="305.5" y1="371.2" x2="305.5" y2="380.2" stroke="#1c1c1c" stroke-width="1.1"/>
<line x1="345.5" y1="370.6" x2="345.5" y2="375.6" stroke="#1c1c1c" stroke-width="1.1"/>
<line x1="305.6" y1="378.5" x2="378.3" y2="378.5" stroke="#1c1c1c" stroke-width="1.1"/>
<line x1="378.5" y1="375.4" x2="378.5" y2="380.2" stroke="#1c1c1c" stroke-width="1.1"/>
<polygon points="326.20,365.40 326.93,366.30 328.01,366.71 327.37,367.68 327.32,368.84 326.20,368.54 325.08,368.84 325.03,367.68 324.39,366.71 325.47,366.30" fill="#111"/>
<polygon points="359.80,370.60 360.53,371.50 361.61,371.91 360.97,372.88 360.92,374.04 359.80,373.74 358.68,374.04 358.63,372.88 357.99,371.91 359.07,371.50" fill="#111"/>
<polygon points="364.20,370.60 364.93,371.50 366.01,371.91 365.37,372.88 365.32,374.04 364.20,373.74 363.08,374.04 363.03,372.88 362.39,371.91 363.47,371.50" fill="#111"/>
<polygon points="368.60,370.60 369.33,371.50 370.41,371.91 369.77,372.88 369.72,374.04 368.60,373.74 367.48,374.04 367.43,372.88 366.79,371.91 367.87,371.50" fill="#111"/>
<path d="M306.05,449.04 L310.55,449.04 L308.30,444.76 Z" fill="#111"/>
<path d="M302.55,470.14 L307.05,470.14 L304.80,465.86 Z" fill="#111"/>
<path d="M309.65,470.14 L314.15,470.14 L311.90,465.86 Z" fill="#111"/>
<circle cx="338.3" cy="396.2" r="2.2" fill="#f4808c" stroke="#861622" stroke-width="1.2"/>
<circle cx="348.8" cy="395.0" r="2.2" fill="#f4808c" stroke="#861622" stroke-width="1.2"/>
<circle cx="343.5" cy="399.8" r="2.2" fill="#f4808c" stroke="#861622" stroke-width="1.2"/>
<circle cx="343.4" cy="453.0" r="2.2" fill="#f4808c" stroke="#861622" stroke-width="1.2"/>
<rect x="375.90" y="383.40" width="4.4" height="4.4" fill="#f0841f"/>
<rect x="372.60" y="401.10" width="4.4" height="4.4" fill="#f0841f"/>
<rect x="379.30" y="399.10" width="4.4" height="4.4" fill="#f0841f"/>
<rect x="376.00" y="401.60" width="4.4" height="4.4" fill="#f0841f"/>
<rect x="373.80" y="398.30" width="4.4" height="4.4" fill="#f0841f"/>
<text x="427.4" y="352.0" font-size="10.65" text-anchor="start" fill="#1a1a1a" stroke="#1a1a1a" stroke-width="0.22" >Splenic T cells</text>
<line x1="420.0" y1="378.0" x2="420.0" y2="471.40000000000003" stroke="#1c1c1c" stroke-width="1.6"/>
<line x1="419.2" y1="470.6" x2="519.5" y2="470.6" stroke="#1c1c1c" stroke-width="1.6"/>
<line x1="416.5" y1="470.5" x2="420.0" y2="470.5" stroke="#1c1c1c" stroke-width="1.2"/>
<line x1="416.5" y1="452.5" x2="420.0" y2="452.5" stroke="#1c1c1c" stroke-width="1.2"/>
<line x1="416.5" y1="433.5" x2="420.0" y2="433.5" stroke="#1c1c1c" stroke-width="1.2"/>
<line x1="416.5" y1="415.5" x2="420.0" y2="415.5" stroke="#1c1c1c" stroke-width="1.2"/>
<line x1="416.5" y1="396.5" x2="420.0" y2="396.5" stroke="#1c1c1c" stroke-width="1.2"/>
<line x1="416.5" y1="378.5" x2="420.0" y2="378.5" stroke="#1c1c1c" stroke-width="1.2"/>
<line x1="436.5" y1="470.6" x2="436.5" y2="474.1" stroke="#1c1c1c" stroke-width="1.2"/>
<text x="436.4" y="483.3" font-size="9.1" text-anchor="middle" fill="#1a1a1a" stroke="#1a1a1a" stroke-width="0.22"  textLength="4.71" lengthAdjust="spacingAndGlyphs">0</text>
<line x1="469.5" y1="470.6" x2="469.5" y2="474.1" stroke="#1c1c1c" stroke-width="1.2"/>
<text x="469.7" y="483.3" font-size="9.1" text-anchor="middle" fill="#1a1a1a" stroke="#1a1a1a" stroke-width="0.22"  textLength="9.41" lengthAdjust="spacingAndGlyphs">10</text>
<line x1="502.5" y1="470.6" x2="502.5" y2="474.1" stroke="#1c1c1c" stroke-width="1.2"/>
<text x="502.4" y="483.3" font-size="9.1" text-anchor="middle" fill="#1a1a1a" stroke="#1a1a1a" stroke-width="0.22"  textLength="9.41" lengthAdjust="spacingAndGlyphs">20</text>
<line x1="434.4" y1="373.5" x2="502.7" y2="373.5" stroke="#1c1c1c" stroke-width="1.1"/>
<line x1="434.5" y1="371.6" x2="434.5" y2="376.0" stroke="#1c1c1c" stroke-width="1.1"/>
<line x1="502.5" y1="371.6" x2="502.5" y2="376.0" stroke="#1c1c1c" stroke-width="1.1"/>
<polygon points="465.40,366.90 466.13,367.80 467.21,368.21 466.57,369.18 466.52,370.34 465.40,370.04 464.28,370.34 464.23,369.18 463.59,368.21 464.67,367.80" fill="#111"/>
<polygon points="469.80,366.90 470.53,367.80 471.61,368.21 470.97,369.18 470.92,370.34 469.80,370.04 468.68,370.34 468.63,369.18 467.99,368.21 469.07,367.80" fill="#111"/>
<polygon points="474.20,366.90 474.93,367.80 476.01,368.21 475.37,369.18 475.32,370.34 474.20,370.04 473.08,370.34 473.03,369.18 472.39,368.21 473.47,367.80" fill="#111"/>
<path d="M430.55,440.14 L435.05,440.14 L432.80,435.86 Z" fill="#111"/>
<path d="M437.75,444.34 L442.25,444.34 L440.00,440.06 Z" fill="#111"/>
<path d="M434.15,467.64 L438.65,467.64 L436.40,463.36 Z" fill="#111"/>
<circle cx="469.6" cy="387.3" r="2.2" fill="#f4808c" stroke="#861622" stroke-width="1.2"/>
<circle cx="469.7" cy="441.8" r="2.2" fill="#f4808c" stroke="#861622" stroke-width="1.2"/>
<circle cx="466.1" cy="457.4" r="2.2" fill="#f4808c" stroke="#861622" stroke-width="1.2"/>
<circle cx="473.0" cy="455.5" r="2.2" fill="#f4808c" stroke="#861622" stroke-width="1.2"/>
<rect x="500.30" y="378.90" width="4.4" height="4.4" fill="#f0841f"/>
<rect x="496.80" y="386.80" width="4.4" height="4.4" fill="#f0841f"/>
<rect x="503.70" y="388.50" width="4.4" height="4.4" fill="#f0841f"/>
<rect x="503.70" y="399.50" width="4.4" height="4.4" fill="#f0841f"/>
<rect x="496.80" y="403.80" width="4.4" height="4.4" fill="#f0841f"/>
<line x1="57.5" y1="44.2" x2="57.5" y2="96.3" stroke="#1c1c1c" stroke-width="1.1"/>
<line x1="54.0" y1="44.5" x2="61.0" y2="44.5" stroke="#1c1c1c" stroke-width="1.1"/>
<line x1="54.0" y1="96.5" x2="61.0" y2="96.5" stroke="#1c1c1c" stroke-width="1.1"/>
<line x1="45.3" y1="70.5" x2="70.3" y2="70.5" stroke="#1c1c1c" stroke-width="1.1"/>
<line x1="95.5" y1="52.3" x2="95.5" y2="94.3" stroke="#1c1c1c" stroke-width="1.1"/>
<line x1="92.05000000000001" y1="52.5" x2="98.75" y2="52.5" stroke="#1c1c1c" stroke-width="1.1"/>
<line x1="92.05000000000001" y1="94.5" x2="98.75" y2="94.5" stroke="#1c1c1c" stroke-width="1.1"/>
<line x1="82.5" y1="73.5" x2="107.5" y2="73.5" stroke="#1c1c1c" stroke-width="1.1"/>
<line x1="133.5" y1="71.3" x2="133.5" y2="100.3" stroke="#1c1c1c" stroke-width="1.1"/>
<line x1="129.4" y1="71.5" x2="136.6" y2="71.5" stroke="#1c1c1c" stroke-width="1.1"/>
<line x1="129.4" y1="100.5" x2="136.6" y2="100.5" stroke="#1c1c1c" stroke-width="1.1"/>
<line x1="120.8" y1="85.5" x2="145.0" y2="85.5" stroke="#1c1c1c" stroke-width="1.1"/>
<line x1="56.5" y1="277.1" x2="56.5" y2="288.8" stroke="#1c1c1c" stroke-width="1.1"/>
<line x1="52.1" y1="277.5" x2="61.699999999999996" y2="277.5" stroke="#1c1c1c" stroke-width="1.1"/>
<line x1="52.1" y1="288.5" x2="61.699999999999996" y2="288.5" stroke="#1c1c1c" stroke-width="1.1"/>
<line x1="47.9" y1="283.5" x2="66.5" y2="283.5" stroke="#1c1c1c" stroke-width="1.1"/>
<line x1="94.5" y1="209.3" x2="94.5" y2="257.2" stroke="#1c1c1c" stroke-width="1.1"/>
<line x1="90.2" y1="257.5" x2="99.39999999999999" y2="257.5" stroke="#1c1c1c" stroke-width="1.1"/>
<line x1="85.6" y1="232.5" x2="103.8" y2="232.5" stroke="#1c1c1c" stroke-width="1.1"/>
<line x1="132.5" y1="213.7" x2="132.5" y2="228.0" stroke="#1c1c1c" stroke-width="1.1"/>
<line x1="127.60000000000001" y1="213.5" x2="137.20000000000002" y2="213.5" stroke="#1c1c1c" stroke-width="1.1"/>
<line x1="127.60000000000001" y1="228.5" x2="137.20000000000002" y2="228.5" stroke="#1c1c1c" stroke-width="1.1"/>
<line x1="123.3" y1="221.5" x2="141.9" y2="221.5" stroke="#1c1c1c" stroke-width="1.1"/>
<line x1="220.5" y1="274.2" x2="220.5" y2="294.3" stroke="#1c1c1c" stroke-width="1.1"/>
<line x1="216.6" y1="274.5" x2="223.6" y2="274.5" stroke="#1c1c1c" stroke-width="1.1"/>
<line x1="216.6" y1="294.5" x2="223.6" y2="294.5" stroke="#1c1c1c" stroke-width="1.1"/>
<line x1="208.0" y1="284.5" x2="231.9" y2="284.5" stroke="#1c1c1c" stroke-width="1.1"/>
<line x1="256.5" y1="269.0" x2="256.5" y2="274.0" stroke="#1c1c1c" stroke-width="1.1"/>
<line x1="253.60000000000002" y1="269.5" x2="259.6" y2="269.5" stroke="#1c1c1c" stroke-width="1.1"/>
<line x1="253.60000000000002" y1="274.5" x2="259.6" y2="274.5" stroke="#1c1c1c" stroke-width="1.1"/>
<line x1="244.4" y1="271.5" x2="268.7" y2="271.5" stroke="#1c1c1c" stroke-width="1.1"/>
<line x1="293.5" y1="239.5" x2="293.5" y2="285.3" stroke="#1c1c1c" stroke-width="1.1"/>
<line x1="290.40000000000003" y1="239.5" x2="296.8" y2="239.5" stroke="#1c1c1c" stroke-width="1.1"/>
<line x1="290.40000000000003" y1="285.5" x2="296.8" y2="285.5" stroke="#1c1c1c" stroke-width="1.1"/>
<line x1="281.2" y1="262.5" x2="306.2" y2="262.5" stroke="#1c1c1c" stroke-width="1.1"/>
<line x1="357.2" y1="298.5" x2="380.8" y2="298.5" stroke="#1c1c1c" stroke-width="1.1"/>
<line x1="404.5" y1="271.3" x2="404.5" y2="293.0" stroke="#1c1c1c" stroke-width="1.1"/>
<line x1="401.09999999999997" y1="271.5" x2="407.7" y2="271.5" stroke="#1c1c1c" stroke-width="1.1"/>
<line x1="401.09999999999997" y1="293.5" x2="407.7" y2="293.5" stroke="#1c1c1c" stroke-width="1.1"/>
<line x1="392.0" y1="282.5" x2="415.4" y2="282.5" stroke="#1c1c1c" stroke-width="1.1"/>
<line x1="439.5" y1="226.6" x2="439.5" y2="280.2" stroke="#1c1c1c" stroke-width="1.1"/>
<line x1="435.9" y1="226.5" x2="442.9" y2="226.5" stroke="#1c1c1c" stroke-width="1.1"/>
<line x1="435.9" y1="280.5" x2="442.9" y2="280.5" stroke="#1c1c1c" stroke-width="1.1"/>
<line x1="427.3" y1="254.5" x2="451.2" y2="254.5" stroke="#1c1c1c" stroke-width="1.1"/>
<line x1="56.5" y1="461.6" x2="56.5" y2="468.4" stroke="#1c1c1c" stroke-width="1.1"/>
<line x1="52.5" y1="461.5" x2="61.3" y2="461.5" stroke="#1c1c1c" stroke-width="1.1"/>
<line x1="52.5" y1="468.5" x2="61.3" y2="468.5" stroke="#1c1c1c" stroke-width="1.1"/>
<line x1="48.3" y1="464.5" x2="65.1" y2="464.5" stroke="#1c1c1c" stroke-width="1.1"/>
<line x1="93.5" y1="418.8" x2="93.5" y2="467.6" stroke="#1c1c1c" stroke-width="1.1"/>
<line x1="89.0" y1="418.5" x2="98.6" y2="418.5" stroke="#1c1c1c" stroke-width="1.1"/>
<line x1="89.0" y1="467.5" x2="98.6" y2="467.5" stroke="#1c1c1c" stroke-width="1.1"/>
<line x1="84.6" y1="443.5" x2="103.2" y2="443.5" stroke="#1c1c1c" stroke-width="1.1"/>
<line x1="130.5" y1="386.0" x2="130.5" y2="440.8" stroke="#1c1c1c" stroke-width="1.1"/>
<line x1="126.05000000000001" y1="386.5" x2="135.75" y2="386.5" stroke="#1c1c1c" stroke-width="1.1"/>
<line x1="126.05000000000001" y1="440.5" x2="135.75" y2="440.5" stroke="#1c1c1c" stroke-width="1.1"/>
<line x1="121.0" y1="413.5" x2="140.5" y2="413.5" stroke="#1c1c1c" stroke-width="1.1"/>
<line x1="184.5" y1="447.4" x2="184.5" y2="464.3" stroke="#1c1c1c" stroke-width="1.1"/>
<line x1="179.8" y1="447.5" x2="188.8" y2="447.5" stroke="#1c1c1c" stroke-width="1.1"/>
<line x1="179.8" y1="464.5" x2="188.8" y2="464.5" stroke="#1c1c1c" stroke-width="1.1"/>
<line x1="176.2" y1="456.5" x2="193.1" y2="456.5" stroke="#1c1c1c" stroke-width="1.1"/>
<line x1="219.5" y1="394.0" x2="219.5" y2="442.4" stroke="#1c1c1c" stroke-width="1.1"/>
<line x1="215.45" y1="394.5" x2="223.95" y2="394.5" stroke="#1c1c1c" stroke-width="1.1"/>
<line x1="215.45" y1="442.5" x2="223.95" y2="442.5" stroke="#1c1c1c" stroke-width="1.1"/>
<line x1="210.8" y1="418.5" x2="228.1" y2="418.5" stroke="#1c1c1c" stroke-width="1.1"/>
<line x1="253.5" y1="391.5" x2="253.5" y2="416.3" stroke="#1c1c1c" stroke-width="1.1"/>
<line x1="249.3" y1="391.5" x2="258.3" y2="391.5" stroke="#1c1c1c" stroke-width="1.1"/>
<line x1="249.3" y1="416.5" x2="258.3" y2="416.5" stroke="#1c1c1c" stroke-width="1.1"/>
<line x1="245.4" y1="404.5" x2="262.2" y2="404.5" stroke="#1c1c1c" stroke-width="1.1"/>
<line x1="308.5" y1="449.2" x2="308.5" y2="468.5" stroke="#1c1c1c" stroke-width="1.1"/>
<line x1="303.95" y1="449.5" x2="312.65000000000003" y2="449.5" stroke="#1c1c1c" stroke-width="1.1"/>
<line x1="303.95" y1="468.5" x2="312.65000000000003" y2="468.5" stroke="#1c1c1c" stroke-width="1.1"/>
<line x1="300.0" y1="461.5" x2="316.8" y2="461.5" stroke="#1c1c1c" stroke-width="1.1"/>
<line x1="343.5" y1="383.1" x2="343.5" y2="438.9" stroke="#1c1c1c" stroke-width="1.1"/>
<line x1="339.35" y1="383.5" x2="347.65" y2="383.5" stroke="#1c1c1c" stroke-width="1.1"/>
<line x1="339.35" y1="438.5" x2="347.65" y2="438.5" stroke="#1c1c1c" stroke-width="1.1"/>
<line x1="334.8" y1="411.5" x2="352.1" y2="411.5" stroke="#1c1c1c" stroke-width="1.1"/>
<line x1="378.5" y1="391.2" x2="378.5" y2="406.5" stroke="#1c1c1c" stroke-width="1.1"/>
<line x1="373.84999999999997" y1="391.5" x2="382.55" y2="391.5" stroke="#1c1c1c" stroke-width="1.1"/>
<line x1="373.84999999999997" y1="406.5" x2="382.55" y2="406.5" stroke="#1c1c1c" stroke-width="1.1"/>
<line x1="370.0" y1="399.5" x2="386.9" y2="399.5" stroke="#1c1c1c" stroke-width="1.1"/>
<line x1="436.5" y1="433.3" x2="436.5" y2="463.4" stroke="#1c1c1c" stroke-width="1.1"/>
<line x1="430.45" y1="433.5" x2="442.34999999999997" y2="433.5" stroke="#1c1c1c" stroke-width="1.1"/>
<line x1="430.45" y1="463.5" x2="442.34999999999997" y2="463.5" stroke="#1c1c1c" stroke-width="1.1"/>
<line x1="425.9" y1="448.5" x2="447.7" y2="448.5" stroke="#1c1c1c" stroke-width="1.1"/>
<line x1="469.5" y1="402.5" x2="469.5" y2="468.2" stroke="#1c1c1c" stroke-width="1.1"/>
<line x1="464.4" y1="402.5" x2="475.0" y2="402.5" stroke="#1c1c1c" stroke-width="1.1"/>
<line x1="464.4" y1="468.5" x2="475.0" y2="468.5" stroke="#1c1c1c" stroke-width="1.1"/>
<line x1="459.1" y1="435.5" x2="480.2" y2="435.5" stroke="#1c1c1c" stroke-width="1.1"/>
<line x1="502.5" y1="384.2" x2="502.5" y2="403.7" stroke="#1c1c1c" stroke-width="1.1"/>
<line x1="496.84999999999997" y1="384.5" x2="507.95" y2="384.5" stroke="#1c1c1c" stroke-width="1.1"/>
<line x1="496.84999999999997" y1="403.5" x2="507.95" y2="403.5" stroke="#1c1c1c" stroke-width="1.1"/>
<line x1="491.4" y1="394.5" x2="513.0" y2="394.5" stroke="#1c1c1c" stroke-width="1.1"/>
</svg>
</body></html>
